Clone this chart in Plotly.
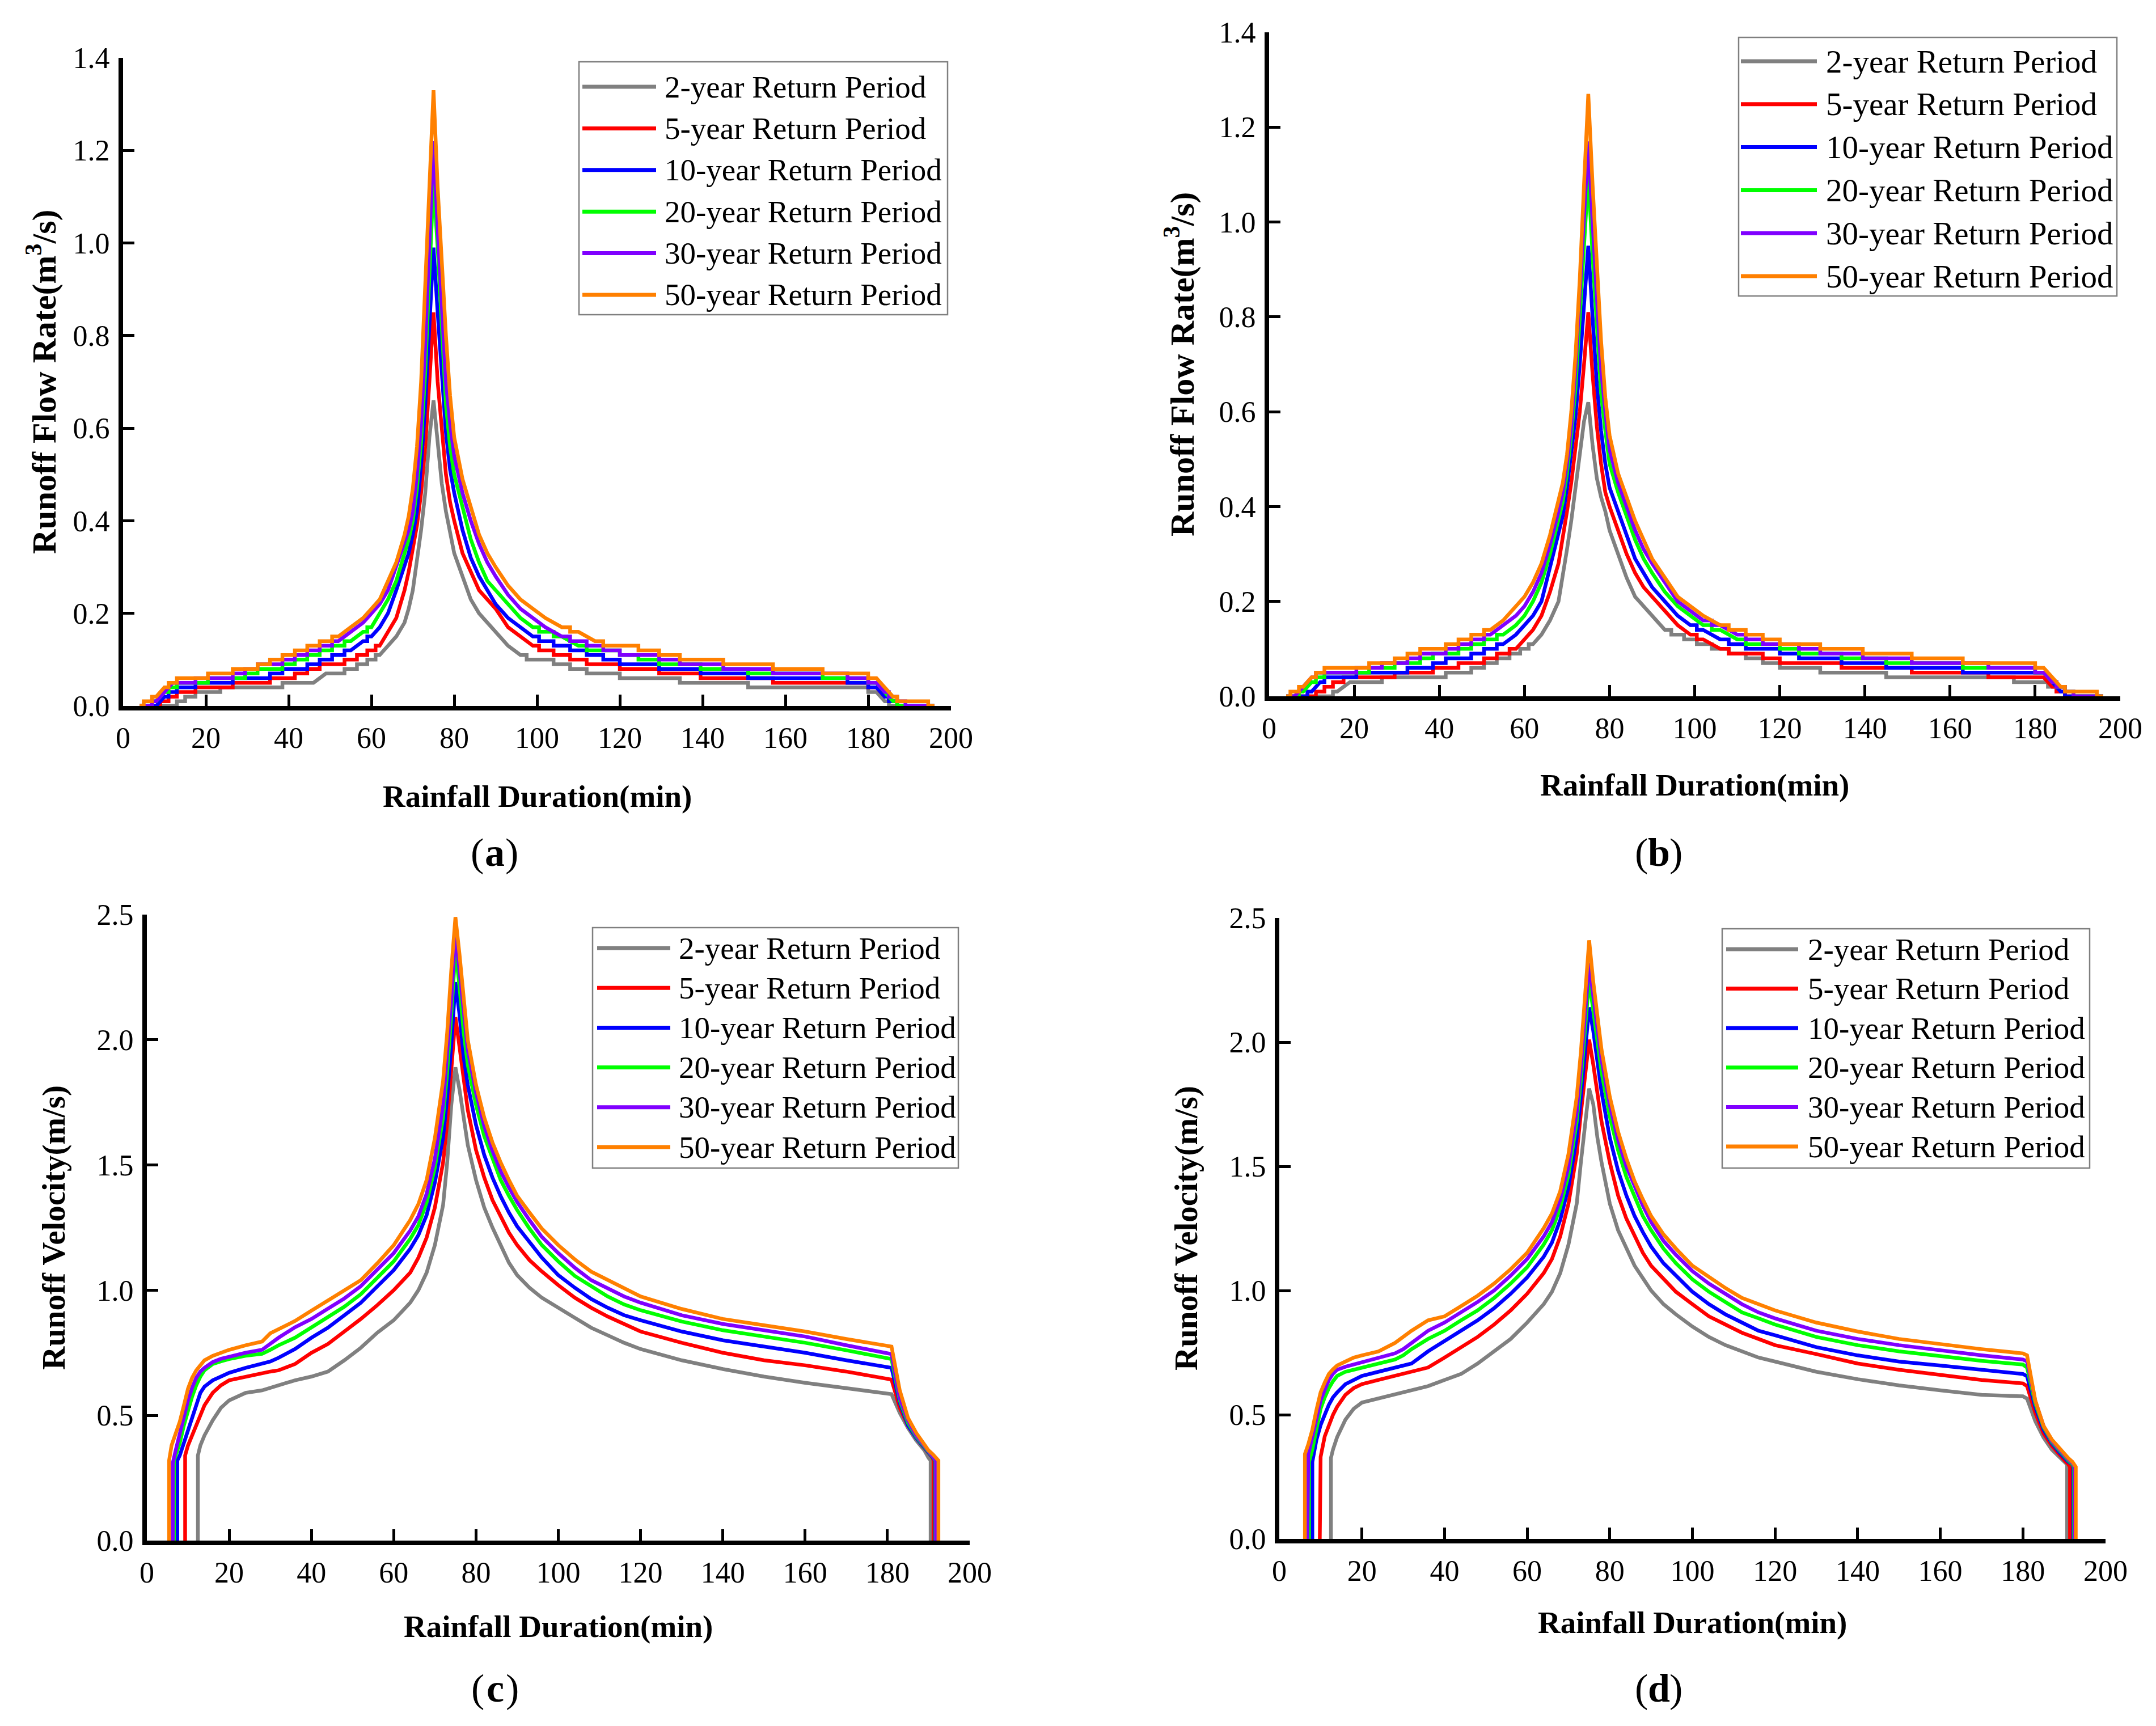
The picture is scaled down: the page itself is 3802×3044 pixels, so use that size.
import plotly.graph_objects as go

# ---------------------------------------------------------------- data
names = ["2-year Return Period", "5-year Return Period", "10-year Return Period",
         "20-year Return Period", "30-year Return Period", "50-year Return Period"]
colors = ["#808080", "#FF0000", "#0000FF", "#00FF00", "#8000FF", "#FF8000"]

# runoff flow rate (m3/s), panels (a) and (b), read at these minutes
t_flow = [4, 6, 8, 10, 12, 14, 16,
          19, 22, 25, 28, 31, 34, 37, 40, 43, 46, 49, 52, 55, 58,
          60, 62, 64, 66, 68,
          69, 70, 71, 72, 73, 74, 75, 76, 77, 78, 79, 80,
          82, 84, 86, 88, 90,
          93, 96, 99, 102,
          106, 110, 114, 118, 122,
          127, 132, 137, 142,
          148, 154, 160, 166, 172, 178,
          182, 184, 186, 188, 190, 193, 196]

qa_2 = [0, 0, 0, 0, 0, 0.01, 0.02,
        0.03, 0.03, 0.04, 0.04, 0.04, 0.04, 0.04, 0.05, 0.05, 0.05, 0.07, 0.07, 0.08, 0.09,
        0.10, 0.11, 0.13, 0.15, 0.18,
        0.21, 0.25, 0.31, 0.38, 0.46, 0.58, 0.66, 0.56, 0.48, 0.42, 0.37, 0.33,
        0.28, 0.23, 0.20, 0.18, 0.16,
        0.13, 0.11, 0.10, 0.10,
        0.09, 0.08, 0.07, 0.07, 0.06,
        0.06, 0.06, 0.05, 0.05,
        0.05, 0.04, 0.04, 0.04, 0.04, 0.04,
        0.03, 0.01, 0, 0, 0, 0, 0]
qa_5 = [0, 0, 0, 0.01, 0.02, 0.03, 0.03,
        0.04, 0.04, 0.04, 0.05, 0.05, 0.05, 0.06, 0.06, 0.07, 0.08, 0.09, 0.09, 0.10, 0.11,
        0.12, 0.13, 0.16, 0.19, 0.25,
        0.29, 0.34, 0.39, 0.46, 0.56, 0.70, 0.85, 0.70, 0.59, 0.50, 0.44, 0.40,
        0.33, 0.29, 0.25, 0.23, 0.21,
        0.17, 0.15, 0.13, 0.12,
        0.11, 0.10, 0.09, 0.09, 0.08,
        0.08, 0.07, 0.07, 0.06,
        0.06, 0.06, 0.05, 0.05, 0.05, 0.05,
        0.04, 0.02, 0.01, 0, 0, 0, 0]
qa_10 = [0, 0, 0, 0.02, 0.03, 0.04, 0.04,
         0.05, 0.05, 0.05, 0.06, 0.06, 0.06, 0.07, 0.08, 0.08, 0.09, 0.10, 0.11, 0.12, 0.14,
         0.15, 0.17, 0.20, 0.25, 0.30,
         0.33, 0.37, 0.42, 0.52, 0.65, 0.82, 0.99, 0.85, 0.72, 0.59, 0.51, 0.46,
         0.38, 0.32, 0.28, 0.25, 0.22,
         0.19, 0.17, 0.15, 0.14,
         0.13, 0.12, 0.11, 0.10, 0.09,
         0.09, 0.08, 0.08, 0.07,
         0.07, 0.06, 0.06, 0.06, 0.06, 0.05,
         0.04, 0.02, 0.01, 0, 0, 0, 0]
qa_20 = [0, 0, 0.01, 0.03, 0.04, 0.05, 0.05,
         0.05, 0.06, 0.06, 0.06, 0.07, 0.08, 0.08, 0.09, 0.10, 0.11, 0.12, 0.13, 0.14, 0.16,
         0.17, 0.20, 0.23, 0.27, 0.33,
         0.36, 0.40, 0.47, 0.57, 0.72, 0.93, 1.13, 0.99, 0.80, 0.65, 0.56, 0.50,
         0.43, 0.36, 0.31, 0.27, 0.25,
         0.22, 0.19, 0.17, 0.16,
         0.15, 0.13, 0.12, 0.12, 0.11,
         0.10, 0.09, 0.09, 0.08,
         0.08, 0.07, 0.07, 0.07, 0.06, 0.06,
         0.05, 0.03, 0.01, 0, 0, 0, 0]
qa_30 = [0, 0, 0.01, 0.03, 0.05, 0.05, 0.05,
         0.06, 0.06, 0.06, 0.07, 0.08, 0.09, 0.09, 0.10, 0.11, 0.12, 0.13, 0.14, 0.16, 0.18,
         0.20, 0.22, 0.25, 0.30, 0.35,
         0.38, 0.42, 0.50, 0.61, 0.78, 1.00, 1.22, 1.03, 0.85, 0.70, 0.61, 0.54,
         0.46, 0.40, 0.35, 0.31, 0.28,
         0.24, 0.21, 0.19, 0.17,
         0.15, 0.14, 0.13, 0.12, 0.11,
         0.11, 0.10, 0.09, 0.09,
         0.08, 0.08, 0.07, 0.07, 0.07, 0.06,
         0.05, 0.03, 0.02, 0.01, 0, 0, 0]
qa_50 = [0, 0.01, 0.02, 0.04, 0.05, 0.06, 0.06,
         0.06, 0.07, 0.07, 0.08, 0.08, 0.09, 0.10, 0.11, 0.12, 0.13, 0.14, 0.15, 0.17, 0.19,
         0.21, 0.23, 0.27, 0.31, 0.37,
         0.41, 0.47, 0.56, 0.70, 0.90, 1.12, 1.33, 1.12, 0.94, 0.80, 0.67, 0.58,
         0.49, 0.43, 0.37, 0.33, 0.30,
         0.26, 0.23, 0.21, 0.19,
         0.17, 0.16, 0.14, 0.13, 0.13,
         0.12, 0.11, 0.10, 0.10,
         0.09, 0.09, 0.08, 0.08, 0.07, 0.07,
         0.06, 0.04, 0.02, 0.01, 0.01, 0.01, 0]

qb_2 = [0, 0, 0, 0, 0, 0, 0.01,
        0.03, 0.03, 0.03, 0.04, 0.04, 0.04, 0.04, 0.04, 0.05, 0.05, 0.06, 0.07, 0.08, 0.09,
        0.10, 0.11, 0.13, 0.16, 0.20,
        0.25, 0.31, 0.37, 0.44, 0.51, 0.58, 0.62, 0.53, 0.46, 0.42, 0.39, 0.35,
        0.30, 0.25, 0.21, 0.19, 0.17,
        0.14, 0.13, 0.12, 0.11,
        0.10, 0.09, 0.08, 0.07, 0.06,
        0.06, 0.05, 0.05, 0.05,
        0.04, 0.04, 0.04, 0.04, 0.04, 0.03,
        0.03, 0.02, 0.01, 0, 0, 0, 0]
qb_5 = [0, 0, 0, 0, 0.01, 0.02, 0.03,
        0.04, 0.04, 0.04, 0.04, 0.05, 0.05, 0.05, 0.06, 0.06, 0.07, 0.07, 0.08, 0.09, 0.10,
        0.12, 0.14, 0.17, 0.22, 0.28,
        0.33, 0.39, 0.45, 0.52, 0.60, 0.70, 0.81, 0.68, 0.57, 0.49, 0.43, 0.40,
        0.35, 0.30, 0.26, 0.23, 0.21,
        0.18, 0.15, 0.13, 0.12,
        0.10, 0.09, 0.09, 0.08, 0.07,
        0.07, 0.07, 0.06, 0.06,
        0.06, 0.05, 0.05, 0.05, 0.04, 0.04,
        0.04, 0.02, 0.01, 0, 0, 0, 0]
qb_10 = [0, 0, 0, 0.01, 0.03, 0.04, 0.04,
         0.04, 0.05, 0.05, 0.05, 0.05, 0.06, 0.06, 0.07, 0.08, 0.08, 0.09, 0.10, 0.11, 0.13,
         0.15, 0.17, 0.20, 0.27, 0.34,
         0.38, 0.44, 0.51, 0.59, 0.70, 0.83, 0.95, 0.80, 0.66, 0.56, 0.49, 0.44,
         0.39, 0.34, 0.29, 0.26, 0.23,
         0.20, 0.17, 0.15, 0.14,
         0.12, 0.11, 0.10, 0.10, 0.09,
         0.08, 0.08, 0.07, 0.07,
         0.06, 0.06, 0.06, 0.05, 0.05, 0.05,
         0.05, 0.03, 0.01, 0, 0, 0, 0]
qb_20 = [0, 0, 0.01, 0.03, 0.04, 0.05, 0.05,
         0.05, 0.05, 0.06, 0.06, 0.07, 0.07, 0.08, 0.09, 0.09, 0.10, 0.11, 0.12, 0.13, 0.15,
         0.17, 0.20, 0.24, 0.30, 0.37,
         0.41, 0.47, 0.55, 0.65, 0.79, 0.95, 1.10, 0.93, 0.77, 0.64, 0.56, 0.49,
         0.43, 0.38, 0.33, 0.29, 0.26,
         0.22, 0.19, 0.17, 0.15,
         0.14, 0.12, 0.11, 0.11, 0.10,
         0.09, 0.09, 0.08, 0.08,
         0.07, 0.07, 0.07, 0.06, 0.06, 0.06,
         0.05, 0.03, 0.02, 0.01, 0, 0, 0]
qb_30 = [0, 0, 0.02, 0.04, 0.05, 0.05, 0.05,
         0.05, 0.06, 0.06, 0.07, 0.07, 0.08, 0.09, 0.09, 0.10, 0.11, 0.12, 0.13, 0.15, 0.17,
         0.19, 0.22, 0.26, 0.32, 0.39,
         0.43, 0.49, 0.57, 0.69, 0.84, 1.01, 1.17, 1.00, 0.83, 0.69, 0.60, 0.52,
         0.45, 0.40, 0.35, 0.31, 0.28,
         0.24, 0.20, 0.18, 0.16,
         0.15, 0.13, 0.12, 0.11, 0.11,
         0.10, 0.09, 0.09, 0.08,
         0.08, 0.07, 0.07, 0.07, 0.06, 0.06,
         0.05, 0.03, 0.02, 0.01, 0, 0, 0]
qb_50 = [0, 0.01, 0.02, 0.04, 0.05, 0.06, 0.06,
         0.06, 0.06, 0.07, 0.07, 0.08, 0.09, 0.10, 0.10, 0.11, 0.12, 0.13, 0.14, 0.16, 0.19,
         0.21, 0.24, 0.28, 0.34, 0.41,
         0.45, 0.51, 0.60, 0.72, 0.88, 1.08, 1.27, 1.08, 0.90, 0.75, 0.63, 0.55,
         0.47, 0.42, 0.37, 0.33, 0.29,
         0.25, 0.21, 0.19, 0.17,
         0.15, 0.14, 0.13, 0.12, 0.11,
         0.11, 0.10, 0.10, 0.09,
         0.09, 0.08, 0.08, 0.07, 0.07, 0.07,
         0.06, 0.04, 0.02, 0.01, 0.01, 0.01, 0]

# runoff velocity (m/s), panels (c) and (d); None = no flow at that minute
t_vel = [6, 7, 8, 9, 10, 11, 12, 13, 14,
         16, 18, 20, 24, 28, 30, 32, 36, 40, 44, 48, 52, 56, 60,
         64, 66, 68, 70, 72, 73, 74, 75, 76, 77, 78, 80,
         82, 84, 86, 88, 90, 93, 96, 100, 104, 108, 112, 116, 120,
         130, 140, 150, 160, 170, 180, 181, 183, 185, 187, 189, 190, 191, 192]
N = None

vc_2 = [N, N, N, N, N, N, N, 0.38, 0.42,
        0.48, 0.53, 0.56, 0.59, 0.60, 0.61, 0.62, 0.64, 0.655, 0.675, 0.72, 0.77, 0.83, 0.88,
        0.95, 1.00, 1.07, 1.18, 1.34, 1.51, 1.74, 1.89, 1.80, 1.68, 1.58, 1.44,
        1.33, 1.25, 1.18, 1.11, 1.06, 1.01, 0.97, 0.93, 0.89, 0.85, 0.82, 0.79, 0.765,
        0.72, 0.685, 0.655, 0.63, 0.61, 0.59, 0.585, 0.51, 0.45, 0.40, 0.36, 0.33, N, N]
vc_5 = [N, N, N, N, 0.38, 0.42, 0.46, 0.50, 0.54,
        0.59, 0.62, 0.64, 0.655, 0.67, 0.675, 0.68, 0.705, 0.75, 0.785, 0.835, 0.885, 0.94, 1.0,
        1.07, 1.13, 1.21, 1.33, 1.51, 1.67, 1.88, 2.09, 1.97, 1.84, 1.72, 1.56,
        1.45, 1.36, 1.295, 1.23, 1.18, 1.12, 1.075, 1.02, 0.97, 0.93, 0.895, 0.865, 0.835,
        0.79, 0.75, 0.72, 0.70, 0.675, 0.648, 0.643, 0.53, 0.46, 0.41, 0.37, 0.345, 0.33, N]
vc_10 = [N, N, 0.34, 0.39, 0.44, 0.50, 0.55, 0.59, 0.615,
         0.64, 0.655, 0.67, 0.69, 0.705, 0.715, 0.73, 0.765, 0.81, 0.85, 0.90, 0.95, 1.015, 1.08,
         1.165, 1.22, 1.30, 1.43, 1.61, 1.77, 1.98, 2.23, 2.10, 1.93, 1.82, 1.66,
         1.54, 1.45, 1.375, 1.31, 1.255, 1.19, 1.13, 1.06, 1.01, 0.965, 0.93, 0.90, 0.88,
         0.835, 0.80, 0.775, 0.75, 0.72, 0.695, 0.69, 0.55, 0.46, 0.41, 0.37, 0.35, 0.335, N]
vc_20 = [N, 0.34, 0.39, 0.46, 0.525, 0.575, 0.62, 0.655, 0.68,
         0.705, 0.716, 0.725, 0.738, 0.746, 0.762, 0.78, 0.81, 0.852, 0.893, 0.934, 0.984, 1.05, 1.115,
         1.205, 1.26, 1.35, 1.49, 1.69, 1.87, 2.10, 2.36, 2.21, 2.03, 1.90, 1.74,
         1.615, 1.525, 1.44, 1.377, 1.32, 1.246, 1.18, 1.115, 1.057, 1.016, 0.975, 0.943, 0.92,
         0.875, 0.84, 0.815, 0.79, 0.76, 0.73, 0.725, 0.56, 0.47, 0.415, 0.375, 0.35, 0.335, N]
vc_30 = [N, 0.36, 0.43, 0.50, 0.56, 0.61, 0.65, 0.675, 0.69,
         0.713, 0.726, 0.734, 0.75, 0.762, 0.787, 0.81, 0.852, 0.885, 0.926, 0.967, 1.016, 1.08, 1.148,
         1.238, 1.295, 1.385, 1.525, 1.74, 1.93, 2.16, 2.43, 2.28, 2.10, 1.96, 1.79,
         1.656, 1.557, 1.475, 1.41, 1.352, 1.28, 1.213, 1.148, 1.09, 1.04, 1.008, 0.975, 0.95,
         0.90, 0.865, 0.84, 0.815, 0.78, 0.75, 0.745, 0.57, 0.48, 0.42, 0.38, 0.355, 0.34, N]
vc_50 = [0.38, 0.43, 0.475, 0.54, 0.607, 0.65, 0.68, 0.70, 0.72,
         0.738, 0.75, 0.762, 0.78, 0.795, 0.828, 0.844, 0.877, 0.918, 0.959, 1.0, 1.04, 1.107, 1.18,
         1.28, 1.344, 1.44, 1.607, 1.836, 2.03, 2.28, 2.49, 2.34, 2.15, 2.0, 1.82,
         1.69, 1.59, 1.51, 1.44, 1.377, 1.31, 1.246, 1.18, 1.123, 1.074, 1.04, 1.008, 0.975,
         0.925, 0.885, 0.86, 0.835, 0.805, 0.776, 0.775, 0.60, 0.49, 0.43, 0.385, 0.36, 0.345, 0.33]
vc_start_x = [12.4, 9.3, 7.4, 6.6, 6.3, 5.4]
vc_start_top = [0.34, 0.34, 0.32, 0.32, 0.31, 0.32]
vc_end_x = [190.5, 191.2, 191.6, 191.7, 191.8, 192.4]
vc_end_top = [0.32, 0.32, 0.32, 0.32, 0.32, 0.32]

vd_2 = [N, N, N, N, N, N, N, 0.36, 0.41,
        0.48, 0.524, 0.549, 0.565, 0.58, 0.59, 0.598, 0.615, 0.64, 0.664, 0.706, 0.755, 0.805, 0.871,
        0.945, 0.995, 1.07, 1.185, 1.35, 1.516, 1.68, 1.813, 1.75, 1.615, 1.516, 1.35,
        1.243, 1.169, 1.10, 1.05, 1.0, 0.945, 0.904, 0.855, 0.813, 0.78, 0.755, 0.73, 0.714,
        0.673, 0.643, 0.618, 0.598, 0.58, 0.574, 0.565, 0.474, 0.408, 0.359, 0.326, 0.309, N, N]
vd_5 = [N, N, N, N, 0.33, 0.413, 0.458, 0.50, 0.532,
        0.58, 0.607, 0.623, 0.64, 0.656, 0.665, 0.673, 0.69, 0.73, 0.772, 0.813, 0.863, 0.92, 0.987,
        1.07, 1.127, 1.218, 1.35, 1.55, 1.714, 1.88, 2.01, 1.91, 1.80, 1.68, 1.516,
        1.383, 1.29, 1.218, 1.152, 1.10, 1.045, 0.995, 0.945, 0.896, 0.863, 0.83, 0.805, 0.78,
        0.744, 0.706, 0.681, 0.66, 0.64, 0.626, 0.615, 0.507, 0.425, 0.375, 0.334, 0.318, 0.30, N]
vd_10 = [N, N, 0.31, 0.40, 0.458, 0.50, 0.54, 0.57, 0.59,
         0.623, 0.64, 0.656, 0.673, 0.69, 0.697, 0.706, 0.755, 0.797, 0.838, 0.88, 0.929, 0.987, 1.053,
         1.136, 1.193, 1.284, 1.417, 1.615, 1.78, 1.96, 2.14, 2.045, 1.91, 1.80, 1.615,
         1.483, 1.383, 1.30, 1.235, 1.177, 1.11, 1.06, 0.995, 0.945, 0.904, 0.871, 0.838, 0.82,
         0.772, 0.739, 0.714, 0.698, 0.681, 0.664, 0.655, 0.53, 0.44, 0.385, 0.345, 0.325, 0.31, 0.30]
vd_20 = [N, N, 0.36, 0.45, 0.524, 0.57, 0.607, 0.635, 0.656,
         0.673, 0.681, 0.69, 0.706, 0.722, 0.739, 0.764, 0.805, 0.838, 0.88, 0.92, 0.97, 1.028, 1.094,
         1.185, 1.243, 1.334, 1.466, 1.68, 1.846, 2.045, 2.25, 2.127, 1.995, 1.88, 1.70,
         1.565, 1.458, 1.375, 1.30, 1.243, 1.169, 1.11, 1.045, 0.995, 0.954, 0.912, 0.888, 0.863,
         0.813, 0.78, 0.755, 0.735, 0.717, 0.702, 0.69, 0.545, 0.45, 0.39, 0.35, 0.33, 0.315, 0.30]
vd_30 = [N, 0.34, 0.41, 0.49, 0.557, 0.60, 0.64, 0.665, 0.681,
         0.693, 0.702, 0.709, 0.726, 0.747, 0.764, 0.789, 0.838, 0.871, 0.912, 0.954, 1.0, 1.06, 1.127,
         1.218, 1.276, 1.367, 1.50, 1.72, 1.896, 2.11, 2.32, 2.185, 2.05, 1.93, 1.747,
         1.607, 1.50, 1.417, 1.342, 1.276, 1.20, 1.144, 1.078, 1.028, 0.987, 0.945, 0.912, 0.888,
         0.838, 0.805, 0.78, 0.759, 0.739, 0.722, 0.715, 0.555, 0.455, 0.395, 0.355, 0.335, 0.32, 0.305]
vd_50 = [N, 0.38, 0.44, 0.52, 0.59, 0.63, 0.664, 0.683, 0.698,
         0.714, 0.73, 0.739, 0.755, 0.789, 0.813, 0.838, 0.88, 0.896, 0.937, 0.979, 1.028, 1.086, 1.152,
         1.251, 1.31, 1.40, 1.55, 1.78, 1.96, 2.177, 2.41, 2.243, 2.094, 1.97, 1.78,
         1.64, 1.532, 1.44, 1.367, 1.30, 1.226, 1.169, 1.10, 1.053, 1.01, 0.97, 0.945, 0.92,
         0.871, 0.835, 0.805, 0.783, 0.764, 0.747, 0.739, 0.557, 0.455, 0.40, 0.36, 0.34, 0.325, 0.31]
vd_start_x = [12.5, 9.8, 8.0, 7.2, 6.8, 6.2]
vd_start_top = [0.326, 0.317, 0.31, 0.31, 0.326, 0.342]
vd_end_x = [190.7, 191.4, 192.2, 192.4, 192.6, 192.8]
vd_end_top = [0.30, 0.29, 0.29, 0.29, 0.29, 0.29]

# ---------------------------------------------------------------- layout helpers
W, H = 3802, 3044
FONT = "Liberation Serif"


def px(x):
    return x / W


def py(y):
    return 1 - y / H


fig = go.Figure()


def flow_traces(series, ax):
    # the logged flow is rounded to 0.01: a single 0.01 change is drawn as a
    # step, bigger changes (round the peak) as straight segments
    for vals, nm, col in zip(series, names, colors):
        xs, ys = [], []
        for i, (t, v) in enumerate(zip(t_flow, vals)):
            if i > 0:
                tp, vp = t_flow[i - 1], vals[i - 1]
                if 0 < abs(v - vp) < 0.015:
                    m = (tp + t) / 2
                    xs += [m, m]
                    ys += [vp, v]
            xs.append(t)
            ys.append(v)
        fig.add_trace(go.Scatter(x=xs, y=ys, name=nm, mode="lines",
                                 line=dict(color=col, width=6.5),
                                 xaxis="x" + ax, yaxis="y" + ax, showlegend=False))


def vel_traces(series, sx, st, ex, et, ax):
    for i, vals in enumerate(series):
        xs = [sx[i], sx[i]]
        ys = [0, st[i]]
        for t, v in zip(t_vel, vals):
            if v is not None:
                xs.append(t)
                ys.append(v)
        xs += [ex[i], ex[i]]
        ys += [et[i], 0]
        fig.add_trace(go.Scatter(x=xs, y=ys, name=names[i], mode="lines",
                                 line=dict(color=colors[i], width=6.5),
                                 xaxis="x" + ax, yaxis="y" + ax, showlegend=False))


flow_traces([qa_2, qa_5, qa_10, qa_20, qa_30, qa_50], "")
flow_traces([qb_2, qb_5, qb_10, qb_20, qb_30, qb_50], "2")
vel_traces([vc_2, vc_5, vc_10, vc_20, vc_30, vc_50],
           vc_start_x, vc_start_top, vc_end_x, vc_end_top, "3")
vel_traces([vd_2, vd_5, vd_10, vd_20, vd_30, vd_50],
           vd_start_x, vd_start_top, vd_end_x, vd_end_top, "4")

# panel boxes in screen pixels: x of 0 and 200 min, y of 0 and top tick
panels = [
    ("", (217, 1677), (1245, 102), 1.4, 0.2),
    ("2", (2238, 3739), (1228, 57), 1.4, 0.2),
    ("3", (259, 1710), (2717, 1613), 2.5, 0.5),
    ("4", (2256, 3713), (2714, 1619), 2.5, 0.5),
]
axis_common = dict(showline=True, linecolor="black", linewidth=8, ticks="inside",
                   ticklen=20, tickwidth=5, tickcolor="black", showgrid=False,
                   zeroline=False, automargin=False,
                   tickfont=dict(family=FONT, size=52, color="black"))
for ax, (x0, x1), (y0, y1), ymax, dy in panels:
    fig.update_layout({
        "xaxis" + ax: dict(domain=[px(x0), px(x1)], range=[0, 200], tick0=0, dtick=20,
                           anchor="y" + ax, ticklabelstandoff=4, **axis_common),
        "yaxis" + ax: dict(domain=[py(y0), py(y1)], range=[0, ymax], tick0=0, dtick=dy,
                           tickformat=".1f", anchor="x" + ax, ticklabelstandoff=5,
                           **axis_common),
    })


def label(x, y, text, size, bold=False, anchor="center", angle=0):
    fig.add_annotation(x=px(x), y=py(y), xref="paper", yref="paper", showarrow=False,
                       text=text, xanchor=anchor, yanchor="middle", textangle=angle,
                       font=dict(family=FONT, size=size, color="black",
                                 weight="bold" if bold else "normal"))


# axis titles
x_titles = [((217 + 1677) / 2, 1404), ((2238 + 3739) / 2, 1384),
            ((259 + 1710) / 2, 2868), ((2256 + 3713) / 2, 2861)]
y_titles = [(73, 673, "Runoff Flow Rate(m<sup>3</sup>/s)", 60),
            (2080, 642, "Runoff Flow Rate(m<sup>3</sup>/s)", 60),
            (95, 2165, "Runoff Velocity(m/s)", 57),
            (2092, 2166, "Runoff Velocity(m/s)", 57)]
for (xx, yy), (tx, ty, txt, ts) in zip(x_titles, y_titles):
    label(xx, yy, "Rainfall Duration(min)", 55, bold=True)
    label(tx, ty, txt, ts, bold=True, angle=-90)

# panel letters: plain brackets round a bold letter
letters = [(872, 1503, "a"), (2925, 1503, "b"), (873, 2977, "c"), (2925, 2977, "d")]
for lx, ly, lt in letters:
    label(lx, ly, lt, 70, bold=True)
    label(lx - 17, ly, "(", 70, anchor="right")
    label(lx + 17, ly, ")", 70, anchor="left")

# legends: box (x0, x1, y0, y1), first row y, row step, sample line x0/x1, text x, font size
legends = [
    ((1021, 1671, 109, 555), 153, 73.4, 1027, 1157, 1170, 55),
    ((3066, 3733, 66, 522), 108, 75.8, 3070, 3204, 3218, 57),
    ((1045, 1690, 1636, 2060), 1672, 70.2, 1053, 1182, 1195, 55),
    ((3037, 3685, 1638, 2060), 1674, 69.6, 3044, 3171, 3186, 55),
]
for (bx0, bx1, by0, by1), r0, step, lx0, lx1, tx, fs in legends:
    fig.add_shape(type="rect", xref="paper", yref="paper", x0=px(bx0), x1=px(bx1),
                  y0=py(by1), y1=py(by0), line=dict(color="#7f7f7f", width=2.5),
                  fillcolor="white")
    for i in range(6):
        yy = r0 + i * step
        fig.add_shape(type="line", xref="paper", yref="paper", x0=px(lx0), x1=px(lx1),
                      y0=py(yy), y1=py(yy), line=dict(color=colors[i], width=7))
        label(tx, yy, names[i], fs, anchor="left")

fig.update_layout(width=W, height=H, margin=dict(l=0, r=0, t=0, b=0),
                  paper_bgcolor="white", plot_bgcolor="white", showlegend=False,
                  font=dict(family=FONT, color="black"))

fig.write_html("out.html", config={"displayModeBar": False},
               post_script="document.body.style.margin='0';")
